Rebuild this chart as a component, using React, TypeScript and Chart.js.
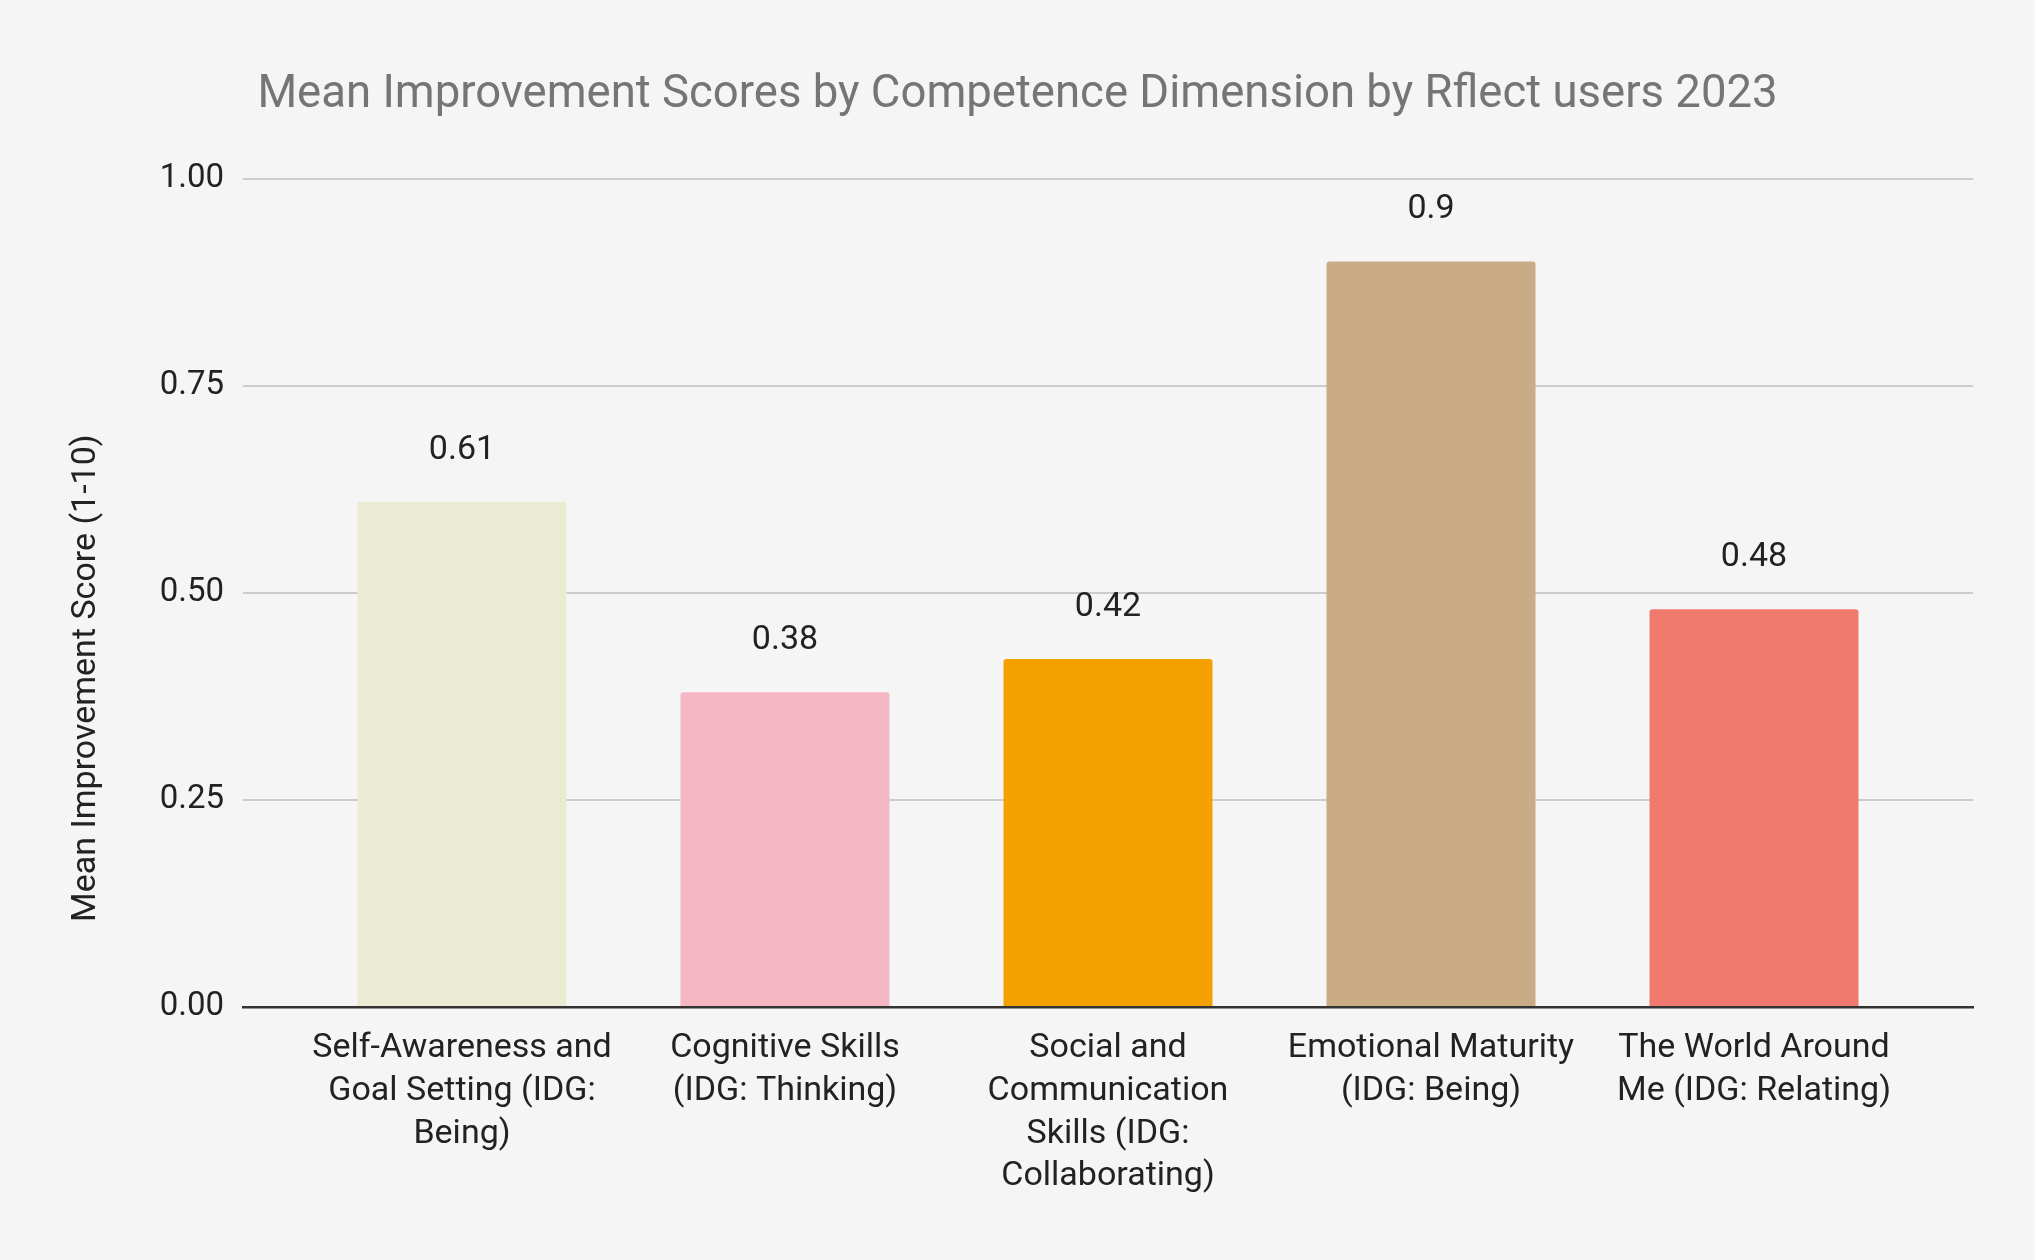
import React, { useEffect, useRef } from "react";
import { Chart, registerables } from "chart.js";

Chart.register(...registerables);

const chartTitle = "Mean Improvement Scores by Competence Dimension by Rflect users 2023";
const yAxisTitle = "Mean Improvement Score (1-10)";

const categories: string[][] = [
  ["Self-Awareness and", "Goal Setting (IDG:", "Being)"],
  ["Cognitive Skills", "(IDG: Thinking)"],
  ["Social and", "Communication", "Skills (IDG:", "Collaborating)"],
  ["Emotional Maturity", "(IDG: Being)"],
  ["The World Around", "Me (IDG: Relating)"],
];

const scores: number[] = [0.61, 0.38, 0.42, 0.9, 0.48];

const barColors: string[] = ["#EBEBD4", "#F5B7C3", "#F4A000", "#C9AB85", "#F07A6D"];

const yTicks: number[] = [0, 0.25, 0.5, 0.75, 1];

const FONT = "Roboto";
const TEXT = "#222222";

export default function App() {
  const canvasRef = useRef<HTMLCanvasElement | null>(null);

  useEffect(() => {
    document.body.style.margin = "0";
    document.body.style.background = "#F5F5F5";
    const canvas = canvasRef.current;
    if (!canvas) return;

    const valueLabels = {
      id: "valueLabels",
      afterDatasetsDraw(chart: any) {
        const ctx = chart.ctx;
        const meta = chart.getDatasetMeta(0);
        ctx.save();
        ctx.font = `34px ${FONT}`;
        ctx.fillStyle = TEXT;
        ctx.textAlign = "center";
        ctx.textBaseline = "alphabetic";
        meta.data.forEach((bar: any, i: number) => {
          ctx.fillText(String(scores[i]), bar.x, bar.y - 43);
        });
        ctx.restore();
      },
    };

    const yTitle = {
      id: "yTitle",
      afterDraw(chart: any) {
        const ctx = chart.ctx;
        const area = chart.chartArea;
        ctx.save();
        ctx.translate(86, area.top + (area.bottom - area.top) * 0.603);
        ctx.rotate(-Math.PI / 2);
        ctx.font = `34px ${FONT}`;
        ctx.fillStyle = TEXT;
        ctx.textAlign = "center";
        ctx.textBaseline = "middle";
        ctx.fillText(yAxisTitle, 0, 0);
        ctx.restore();
      },
    };

    const chart = new Chart(canvas, {
      type: "bar",
      data: {
        datasets: [
          {
            data: scores.map((v, i) => ({ x: i, y: v })),
            backgroundColor: barColors,
            borderRadius: 3,
            borderSkipped: "start",
            barPercentage: 0.647,
            categoryPercentage: 1,
          },
        ],
      },
      options: {
        animation: false,
        responsive: true,
        maintainAspectRatio: false,
        layout: { padding: 0 },
        plugins: {
          legend: { display: false },
          tooltip: { enabled: false },
          title: {
            display: true,
            text: chartTitle,
            color: "#757575",
            font: { family: FONT, size: 45.5, weight: "normal" },
            padding: { top: 68, bottom: 56 },
          },
        },
        scales: {
          x: {
            type: "linear",
            position: "bottom",
            offset: false,
            min: -0.678,
            max: 4.678,
            afterBuildTicks: (scale: any) => {
              scale.ticks = categories.map((_, i) => ({ value: i }));
            },
            afterFit: (scale: any) => {
              scale.height = 253;
            },
            grid: { display: false, drawTicks: false },
            border: { display: true, color: "#333333", width: 2.5, z: 1 },
            ticks: {
              autoSkip: false,
              maxRotation: 0,
              minRotation: 0,
              padding: 20,
              color: TEXT,
              font: { family: FONT, size: 34, lineHeight: 1.26 },
              callback: (value: any) => categories[Number(value)] ?? "",
            },
          },
          y: {
            type: "linear",
            position: "left",
            min: 0,
            max: 1,
            afterBuildTicks: (scale: any) => {
              scale.ticks = yTicks.map((v) => ({ value: v }));
            },
            afterFit: (scale: any) => {
              scale.width = 243;
            },
            grid: { color: "#CCCCCC", lineWidth: 2, drawTicks: false },
            border: { display: false },
            ticks: {
              padding: 19,
              color: TEXT,
              font: { family: FONT, size: 33 },
              callback: (value: any) => Number(value).toFixed(2),
            },
          },
          yRight: {
            type: "linear",
            position: "right",
            display: true,
            afterFit: (scale: any) => {
              scale.width = 62;
            },
            grid: { display: false, drawTicks: false },
            border: { display: false },
            ticks: { display: false },
          },
        },
      },
      plugins: [valueLabels, yTitle],
    } as any);

    return () => {
      chart.destroy();
    };
  }, []);

  return (
    <div style={{ width: "2035px", height: "1260px", background: "#F5F5F5", position: "relative" }}>
      <canvas ref={canvasRef} />
    </div>
  );
}
